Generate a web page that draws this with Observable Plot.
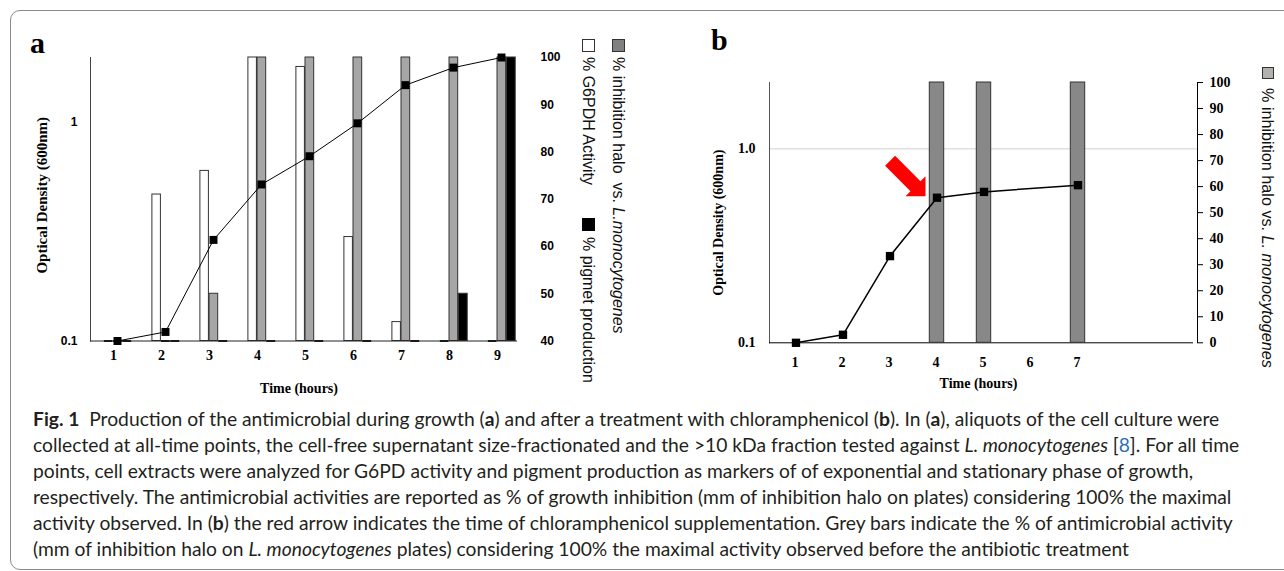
<!DOCTYPE html>
<html><head><meta charset="utf-8">
<script src="https://cdn.jsdelivr.net/npm/d3@7"></script>
<script src="https://cdn.jsdelivr.net/npm/@observablehq/plot@0.6"></script>
<style>
body{margin:0;background:#fff;}
#root{position:relative;width:1284px;height:571px;overflow:hidden;background:#fff;}
#box{position:absolute;left:10px;top:10px;width:1300px;height:560px;border:1.5px solid #8a8a8a;border-radius:10px;box-sizing:border-box;}
.panel{position:absolute;top:0;height:400px;}
.layer{position:absolute;left:0;top:0;}
.vtext{position:absolute;writing-mode:vertical-rl;font-family:"Liberation Sans",Arial,sans-serif;white-space:nowrap;color:#111;line-height:18px;}
.sw{position:absolute;box-sizing:border-box;border:1px solid #333;}
.plab{position:absolute;font-family:"Liberation Serif","Times New Roman",serif;font-weight:bold;font-size:30px;line-height:30px;color:#000;}
#caption{position:absolute;left:33px;top:406px;font-family:Lato,"Open Sans",sans-serif;color:#231f20;line-height:26px;}
#caption div{white-space:nowrap;}
#caption a{color:#2a6ebb;text-decoration:none;}
</style>
</head><body>
<div id="root">
  <div id="box"></div>
  <div class="plab" style="left:30px;top:28px">a</div>
  <div class="plab" style="left:711px;top:25px">b</div>
  <div id="panelA" class="panel" style="left:0;width:650px"></div>
  <div id="panelB" class="panel" style="left:680px;width:604px"></div>

  <!-- legend a -->
  <div class="sw" style="left:612px;top:39px;width:13px;height:13px;background:#808080"></div>
  <div class="vtext" style="left:609px;top:57px;font-size:16px">% inhibition halo&nbsp; vs. <i>L.monocytogenes</i></div>
  <div class="sw" style="left:582px;top:39px;width:13px;height:13px;background:#fff"></div>
  <div class="vtext" style="left:579px;top:57px;font-size:16px">% G6PDH Activity</div>
  <div class="sw" style="left:582px;top:218px;width:13px;height:13px;background:#000;border-color:#000"></div>
  <div class="vtext" style="left:579px;top:237px;font-size:16px">% pigmet production</div>

  <!-- legend b -->
  <div class="sw" style="left:1262px;top:67px;width:12px;height:12px;background:#b4b0b0"></div>
  <div class="vtext" style="left:1259px;top:88px;font-size:16.2px">% inhibition halo vs. <i>L. monocytogenes</i></div>

  <div id="caption">
    <div><b>Fig. 1</b>&nbsp; Production of the antimicrobial during growth (<b>a</b>) and after a treatment with chloramphenicol (<b>b</b>). In (<b>a</b>), aliquots of the cell culture were</div>
    <div>collected at all-time points, the cell-free supernatant size-fractionated and the &gt;10 kDa fraction tested against <i>L. monocytogenes</i> [<a>8</a>]. For all time</div>
    <div>points, cell extracts were analyzed for G6PD activity and pigment production as markers of of exponential and stationary phase of growth,</div>
    <div>respectively. The antimicrobial activities are reported as % of growth inhibition (mm of inhibition halo on plates) considering 100% the maximal</div>
    <div>activity observed. In (<b>b</b>) the red arrow indicates the time of chloramphenicol supplementation. Grey bars indicate the % of antimicrobial activity</div>
    <div>(mm of inhibition halo on <i>L. monocytogenes</i> plates) considering 100% the maximal activity observed before the antibiotic treatment</div>
  </div>
</div>
<script>
const SERIF = '"Liberation Serif","Times New Roman",serif';
const SANS = '"Liberation Sans",Arial,sans-serif';

// ---------- Panel a data ----------
const timeA = [1, 2, 3, 4, 5, 6, 7, 8, 9];
const odA = [0.1, 0.11, 0.29, 0.52, 0.70, 0.99, 1.48, 1.78, 1.98];
const g6pdhA = [0, 71, 76, 100, 98, 62, 44, 0, 0];
const inhibA = [0, 0, 50, 100, 100, 100, 100, 100, 100];
const pigmentA = [0, 0, 0, 0, 0, 0, 0, 50, 100];
const pctTicksA = [40, 50, 60, 70, 80, 90, 100];
const odTicksA = [0.1, 1];

// ---------- Panel b data ----------
const timeB = [1, 2, 3, 4, 5, 6, 7, 8, 9];
const timeTicksB = [1, 2, 3, 4, 5, 6, 7];
const odTimeB = [1, 2, 3, 4, 5, 7];
const odB = [0.1, 0.11, 0.28, 0.56, 0.60, 0.65];
const inhibTimeB = [4, 5, 7];
const inhibB = [100, 100, 100];
const pctTicksB = [0, 10, 20, 30, 40, 50, 60, 70, 80, 90, 100];
const odTicksB = [0.1, 1.0];
const arrowTimeB = 4;

// ---------- Panel a ----------
const rowsA = timeA.map((t, i) => ({t, g: g6pdhA[i], h: inhibA[i], p: pigmentA[i], od: odA[i]}));
const geomA = {width: 650, height: 400, marginLeft: 90, marginRight: 123, marginTop: 57, marginBottom: 59.5};
const seriesA = [
  {key: "g", fill: "#ffffff", insetLeft: 10.9, insetRight: 28.6},
  {key: "h", fill: "#a6a6a6", insetLeft: 20, insetRight: 19.3},
  {key: "p", fill: "#000000", insetLeft: 29.3, insetRight: 9.8}
];
const barsA = Plot.plot({
  ...geomA,
  style: {background: "transparent", overflow: "visible"},
  x: {type: "band", domain: timeA, padding: 0, axis: null},
  y: {domain: [40, 100], clamp: true},
  marks: [
    ...seriesA.map(s => Plot.barY(rowsA, {x: "t", y: s.key, fill: s.fill, stroke: "#333", strokeWidth: 1, insetLeft: s.insetLeft, insetRight: s.insetRight})),
    ...seriesA.map(s => Plot.tickY(rowsA.filter(d => d[s.key] <= 40), {x: "t", y: s.key, stroke: "#111", strokeWidth: 2, insetLeft: s.insetLeft, insetRight: s.insetRight})),
    Plot.axisY({anchor: "right", ticks: pctTicksA, tickSize: 0, tickPadding: 13, label: null, fontFamily: SANS, fontWeight: "bold", fontSize: 12})
  ]
});
barsA.classList.add("layer");
document.getElementById("panelA").appendChild(barsA);

const lineA = Plot.plot({
  ...geomA,
  style: {background: "transparent", overflow: "visible"},
  x: {type: "band", domain: timeA, padding: 0},
  y: {type: "log", domain: [0.1, 1.98]},
  marks: [
    Plot.frame({anchor: "left", stroke: "#444"}),
    Plot.ruleY([0.1], {stroke: "#222", insetRight: 10}),
    Plot.axisY({ticks: odTicksA, tickFormat: d => (d >= 1 ? "1" : "0.1"), tickSize: 0, tickPadding: 13, label: null, fontFamily: SANS, fontWeight: "bold", fontSize: 12}),
    Plot.axisX({tickSize: 0, tickPadding: 9, label: null, dx: -4, fontFamily: SERIF, fontWeight: "bold", fontSize: 14}),
    Plot.text(["Time (hours)"], {text: d => d, frameAnchor: "bottom", textAnchor: "middle", dy: 52, dx: -10, fontFamily: SERIF, fontWeight: "bold", fontSize: 14}),
    Plot.text(["Optical Density (600nm)"], {text: d => d, frameAnchor: "left", textAnchor: "middle", rotate: -90, dx: -48, dy: -4, fontFamily: SERIF, fontWeight: "bold", fontSize: 15}),
    Plot.line(rowsA, {x: "t", y: "od", stroke: "#000", strokeWidth: 1}),
    Plot.dot(rowsA, {x: "t", y: "od", symbol: "square", r: 4.5, fill: "#000"})
  ]
});
lineA.classList.add("layer");
document.getElementById("panelA").appendChild(lineA);

// ---------- Panel b ----------
const odRowsB = odTimeB.map((t, i) => ({t, od: odB[i]}));
const inhibRowsB = inhibTimeB.map((t, i) => ({t, v: inhibB[i]}));
const geomB = {width: 604, height: 400, marginLeft: 89, marginRight: 87, marginTop: 82, marginBottom: 57.7};

const backB = Plot.plot({
  ...geomB,
  style: {background: "transparent", overflow: "visible"},
  x: {type: "band", domain: timeB, padding: 0},
  y: {type: "log", domain: [0.1, 2.2]},
  marks: [
    Plot.ruleY([1.0], {stroke: "#d0d0d0"}),
    Plot.frame({anchor: "left", stroke: "#555"}),
    Plot.ruleY([0.1], {stroke: "#000", insetRight: 4}),
    Plot.axisY({ticks: odTicksB, tickFormat: d3.format(".1f"), tickSize: 0, tickPadding: 14, label: null, fontFamily: SERIF, fontWeight: "bold", fontSize: 14}),
    Plot.axisX({ticks: timeTicksB, tickSize: 0, tickPadding: 14, label: null, dx: -1, fontFamily: SERIF, fontWeight: "bold", fontSize: 14}),
    Plot.text(["Time (hours)"], {text: d => d, frameAnchor: "bottom", textAnchor: "middle", dy: 45, dx: -5, fontFamily: SERIF, fontWeight: "bold", fontSize: 14}),
    Plot.text(["Optical Density (600nm)"], {text: d => d, frameAnchor: "left", textAnchor: "middle", rotate: -90, dx: -51, dy: 10, fontFamily: SERIF, fontWeight: "bold", fontSize: 14})
  ]
});
backB.classList.add("layer");
document.getElementById("panelB").appendChild(backB);

const barsB = Plot.plot({
  ...geomB,
  style: {background: "transparent", overflow: "visible"},
  x: {type: "band", domain: timeB, padding: 0, axis: null},
  y: {domain: [0, 100]},
  marks: [
    Plot.barY(inhibRowsB, {x: "t", y: "v", fill: "#888888", stroke: "#333", strokeWidth: 1, insetLeft: 16.3, insetRight: 16.3}),
    Plot.frame({anchor: "right", stroke: "#000"}),
    Plot.axisY({anchor: "right", ticks: pctTicksB, tickSize: 5, tickPadding: 7, label: null, fontFamily: SERIF, fontWeight: "bold", fontSize: 14})
  ]
});
barsB.classList.add("layer");
document.getElementById("panelB").appendChild(barsB);

const arrowMark = (index, scales) => {
  const {x, y} = scales;
  const bw = x.bandwidth ? x.bandwidth() : 0;
  const i = odTimeB.indexOf(arrowTimeB);
  const tx = x(arrowTimeB) + bw / 2 - 11;
  const ty = y(odB[i]) - 1;
  // block arrow pointing down-right, tip at (tx, ty)
  const pts = [[0, 0], [0, -20], [-5, -15], [-30.4, -40.4], [-40.4, -30.4], [-15, -5], [-20, 0]]
    .map(([dx, dy]) => `${tx + dx},${ty + dy}`).join(" ");
  const poly = document.createElementNS("http://www.w3.org/2000/svg", "polygon");
  poly.setAttribute("points", pts);
  poly.setAttribute("fill", "#ff0000");
  return poly;
};

const lineB = Plot.plot({
  ...geomB,
  style: {background: "transparent", overflow: "visible"},
  x: {type: "band", domain: timeB, padding: 0, axis: null},
  y: {type: "log", domain: [0.1, 2.2], axis: null},
  marks: [
    Plot.line(odRowsB, {x: "t", y: "od", stroke: "#000", strokeWidth: 1.5}),
    Plot.dot(odRowsB, {x: "t", y: "od", symbol: "square", r: 4.7, fill: "#000"}),
    arrowMark
  ]
});
lineB.classList.add("layer");
document.getElementById("panelB").appendChild(lineB);

// fit caption lines to the reference text width
(function fitCaption() {
  const cap = document.getElementById("caption");
  cap.style.fontSize = "17px";
  const widest = Math.max(...[...cap.children].map(d => d.scrollWidth));
  cap.style.fontSize = (17 * 1206 / widest).toFixed(2) + "px";
})();
</script>
</body></html>
